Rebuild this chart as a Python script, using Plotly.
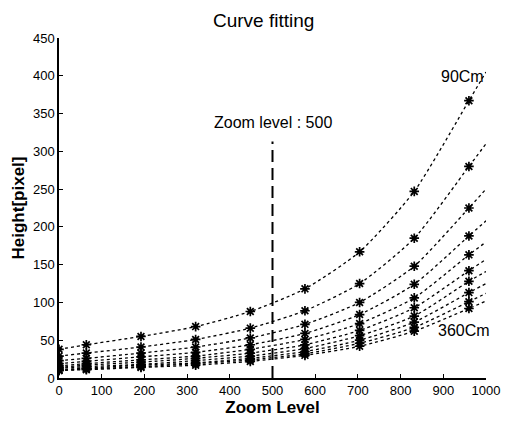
import plotly.graph_objects as go

zoom_levels = [0, 64, 192, 320, 448, 576, 704, 832, 960]
distances = ["90Cm", "120Cm", "150Cm", "180Cm", "210Cm", "240Cm", "270Cm", "300Cm", "330Cm", "360Cm"]
heights = {
    "90Cm":  [38, 44, 55, 68, 88, 118, 167, 247, 367],
    "120Cm": [29, 33, 41, 51, 66, 89, 125, 185, 280],
    "150Cm": [23, 26, 33, 41, 53, 71, 100, 148, 225],
    "180Cm": [19, 22, 28, 34, 44, 59, 84, 124, 188],
    "210Cm": [16, 19, 24, 29, 38, 51, 72, 106, 163],
    "240Cm": [14, 17, 21, 26, 33, 44, 63, 93, 142],
    "270Cm": [13, 15, 18, 23, 29, 39, 56, 82, 128],
    "300Cm": [11, 13, 17, 20, 26, 35, 50, 74, 113],
    "330Cm": [10, 12, 15, 19, 24, 32, 46, 67, 101],
    "360Cm": [10, 11, 14, 17, 22, 30, 42, 62, 92],
}
fit_end_x = 1000
fit_end = {
    "90Cm": 405, "120Cm": 310, "150Cm": 250, "180Cm": 208, "210Cm": 180,
    "240Cm": 157, "270Cm": 141, "300Cm": 125, "330Cm": 112, "360Cm": 102,
}
marker_line = 500
marker_line_top = 313

FONT = "Liberation Sans, Arial, sans-serif"
NARROW = "Liberation Sans Narrow, Liberation Sans, Arial, sans-serif"

fig = go.Figure()
for d in distances:
    fig.add_trace(go.Scatter(
        x=zoom_levels + [fit_end_x], y=heights[d] + [fit_end[d]],
        mode="lines", line=dict(color="black", width=1.3, dash="3px,3px", shape="spline", smoothing=0.6),
        showlegend=False, hoverinfo="skip"))
for d in distances:
    fig.add_trace(go.Scatter(
        x=zoom_levels, y=heights[d], mode="markers",
        marker=dict(symbol="asterisk-open", size=8, color="black", line=dict(color="black", width=1.7)),
        showlegend=False))

fig.add_trace(go.Scatter(x=[marker_line, marker_line], y=[0, marker_line_top], mode="lines",
                         line=dict(color="black", width=2, dash="12px,6px"), showlegend=False))

fig.add_annotation(x=marker_line, y=338, text="Zoom level : 500", showarrow=False,
                   font=dict(family=FONT, size=16, color="black"))
fig.add_annotation(x=945, y=399, text="90Cm", showarrow=False, xanchor="center",
                   font=dict(family=FONT, size=16, color="black"))
fig.add_annotation(x=882, y=63, text="360Cm", showarrow=False, xanchor="left",
                   font=dict(family=FONT, size=16, color="black"))

fig.update_layout(
    width=512, height=423,
    margin=dict(l=59, r=15, t=38, b=43),
    paper_bgcolor="white", plot_bgcolor="white",
    title=dict(text="Curve fitting", x=0.515, xanchor="center", y=0.953, yanchor="middle",
               font=dict(family=FONT, size=19, color="black")),
    font=dict(family=NARROW, size=13, color="black"),
)
fig.update_xaxes(range=[0, 1000], tickvals=list(range(0, 1001, 100)), showgrid=False, zeroline=False,
                 showline=True, linecolor="black", linewidth=1.5, ticks="inside", ticklen=4,
                 tickcolor="black",
                 title=dict(text="<b>Zoom Level</b>", standoff=1, font=dict(family=FONT, size=17)))
fig.update_yaxes(range=[0, 450], tickvals=list(range(0, 451, 50)), showgrid=False, zeroline=False,
                 showline=True, linecolor="black", linewidth=1.5, ticks="inside", ticklen=4,
                 tickcolor="black",
                 title=dict(text="<b>Height[pixel]</b>", standoff=4, font=dict(family=FONT, size=17)))

fig.write_html("out.html")
